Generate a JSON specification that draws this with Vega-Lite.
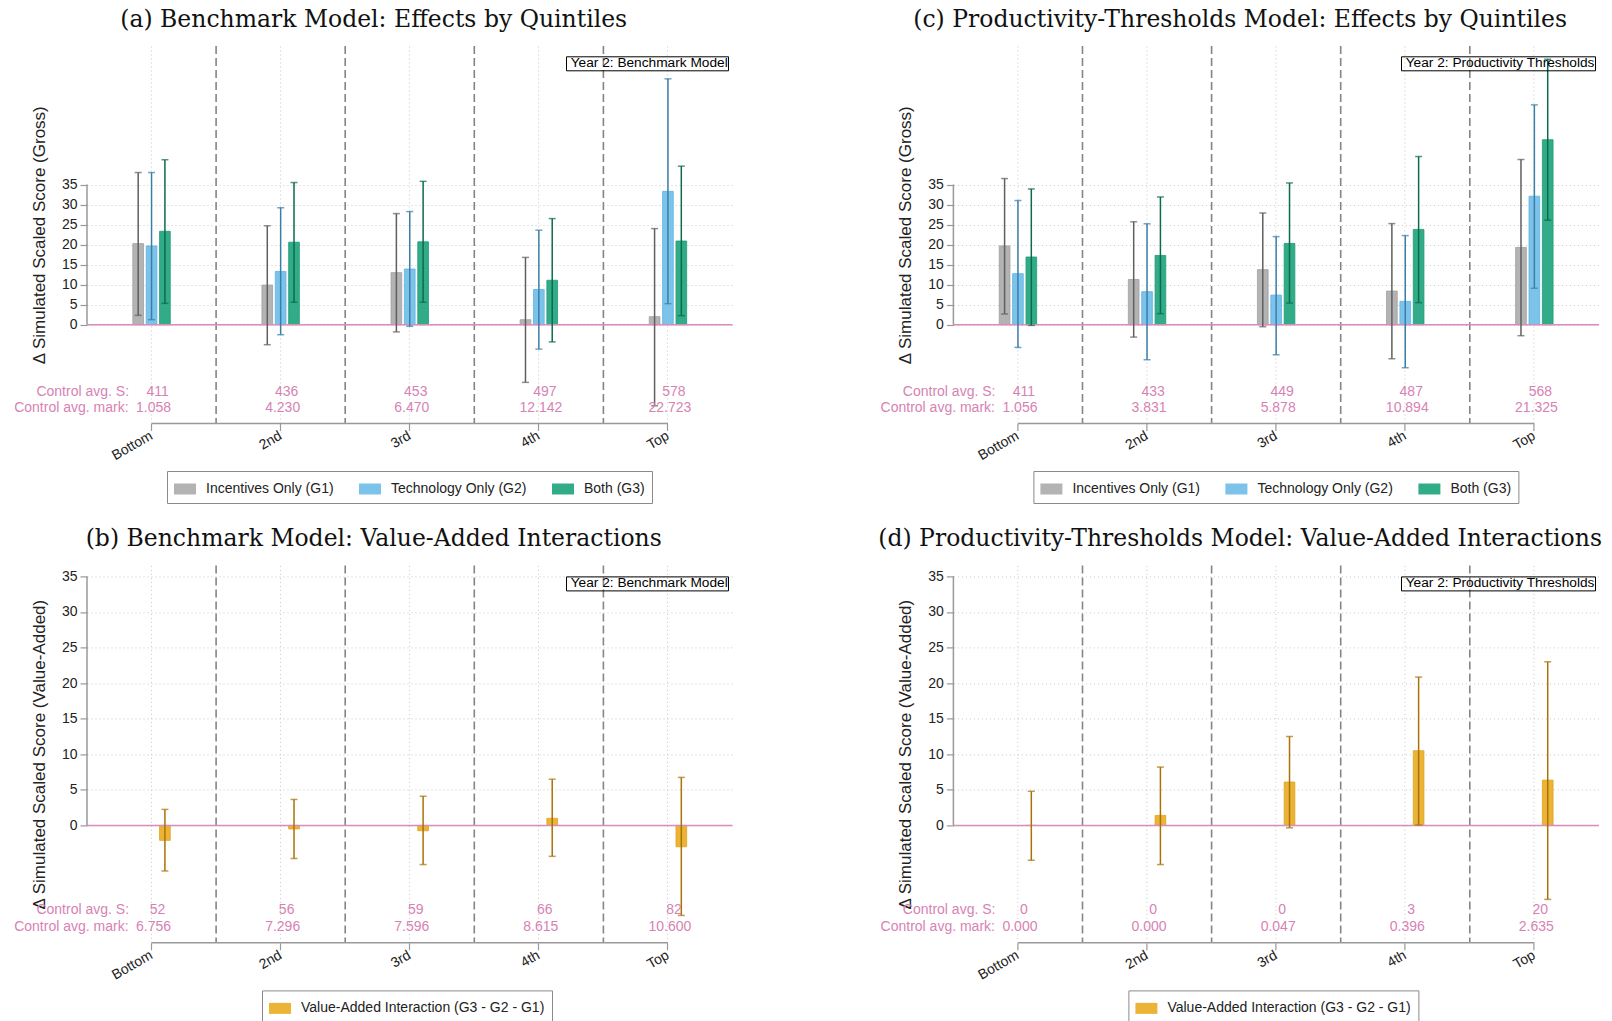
{
  "$schema": "https://vega.github.io/schema/vega-lite/v6.json",
  "background": "white",
  "padding": {"left": 14, "top": 7, "right": 0, "bottom": 0},
  "config": {
    "view": {"stroke": null},
    "font": "Liberation Sans",
    "axis": {"labelFont": "Liberation Sans", "titleFont": "Liberation Sans"},
    "legend": {"labelFont": "Liberation Sans"},
    "text": {"font": "Liberation Sans"},
    "title": {"font": "DejaVu Serif", "fontSize": 23.5, "fontWeight": "normal", "color": "#111111", "anchor": "middle", "frame": "bounds", "offset": 14}
  },
  "datasets": {
    "gA": [
      {"q": "Bottom", "grp": "Incentives Only (G1)", "est": 20.25, "lo": 2.33, "hi": 38.0},
      {"q": "Bottom", "grp": "Technology Only (G2)", "est": 19.67, "lo": 1.25, "hi": 38.0},
      {"q": "Bottom", "grp": "Both (G3)", "est": 23.33, "lo": 5.33, "hi": 41.2},
      {"q": "2nd", "grp": "Incentives Only (G1)", "est": 9.9, "lo": -5.0, "hi": 24.7},
      {"q": "2nd", "grp": "Technology Only (G2)", "est": 13.3, "lo": -2.5, "hi": 29.2},
      {"q": "2nd", "grp": "Both (G3)", "est": 20.6, "lo": 5.6, "hi": 35.5},
      {"q": "3rd", "grp": "Incentives Only (G1)", "est": 13.0, "lo": -1.8, "hi": 27.75},
      {"q": "3rd", "grp": "Technology Only (G2)", "est": 13.9, "lo": -0.4, "hi": 28.25},
      {"q": "3rd", "grp": "Both (G3)", "est": 20.7, "lo": 5.6, "hi": 35.8},
      {"q": "4th", "grp": "Incentives Only (G1)", "est": 1.25, "lo": -14.4, "hi": 16.8},
      {"q": "4th", "grp": "Technology Only (G2)", "est": 8.8, "lo": -6.1, "hi": 23.6},
      {"q": "4th", "grp": "Both (G3)", "est": 11.1, "lo": -4.3, "hi": 26.5},
      {"q": "Top", "grp": "Incentives Only (G1)", "est": 2.0, "lo": -20.25, "hi": 24.0},
      {"q": "Top", "grp": "Technology Only (G2)", "est": 33.3, "lo": 5.25, "hi": 61.4},
      {"q": "Top", "grp": "Both (G3)", "est": 20.9, "lo": 2.25, "hi": 39.6}
    ],
    "gC": [
      {"q": "Bottom", "grp": "Incentives Only (G1)", "est": 19.67, "lo": 2.67, "hi": 36.5},
      {"q": "Bottom", "grp": "Technology Only (G2)", "est": 12.75, "lo": -5.67, "hi": 31.0},
      {"q": "Bottom", "grp": "Both (G3)", "est": 16.9, "lo": -0.17, "hi": 33.9},
      {"q": "2nd", "grp": "Incentives Only (G1)", "est": 11.3, "lo": -3.1, "hi": 25.7},
      {"q": "2nd", "grp": "Technology Only (G2)", "est": 8.25, "lo": -8.75, "hi": 25.2},
      {"q": "2nd", "grp": "Both (G3)", "est": 17.3, "lo": 2.75, "hi": 31.9},
      {"q": "3rd", "grp": "Incentives Only (G1)", "est": 13.75, "lo": -0.5, "hi": 27.9},
      {"q": "3rd", "grp": "Technology Only (G2)", "est": 7.4, "lo": -7.5, "hi": 22.0},
      {"q": "3rd", "grp": "Both (G3)", "est": 20.3, "lo": 5.4, "hi": 35.4},
      {"q": "4th", "grp": "Incentives Only (G1)", "est": 8.4, "lo": -8.5, "hi": 25.25},
      {"q": "4th", "grp": "Technology Only (G2)", "est": 5.83, "lo": -10.75, "hi": 22.25},
      {"q": "4th", "grp": "Both (G3)", "est": 23.8, "lo": 5.5, "hi": 42.0},
      {"q": "Top", "grp": "Incentives Only (G1)", "est": 19.3, "lo": -2.75, "hi": 41.25},
      {"q": "Top", "grp": "Technology Only (G2)", "est": 32.1, "lo": 9.1, "hi": 54.9},
      {"q": "Top", "grp": "Both (G3)", "est": 46.2, "lo": 26.1, "hi": 66.3}
    ],
    "vB": [
      {"q": "Bottom", "series": "Value-Added Interaction (G3 - G2 - G1)", "est": -2.1, "lo": -6.4, "hi": 2.25},
      {"q": "2nd", "series": "Value-Added Interaction (G3 - G2 - G1)", "est": -0.5, "lo": -4.65, "hi": 3.65},
      {"q": "3rd", "series": "Value-Added Interaction (G3 - G2 - G1)", "est": -0.75, "lo": -5.5, "hi": 4.1},
      {"q": "4th", "series": "Value-Added Interaction (G3 - G2 - G1)", "est": 1.0, "lo": -4.35, "hi": 6.5},
      {"q": "Top", "series": "Value-Added Interaction (G3 - G2 - G1)", "est": -3.0, "lo": -12.65, "hi": 6.75}
    ],
    "vD": [
      {"q": "Bottom", "series": "Value-Added Interaction (G3 - G2 - G1)", "est": 0.0, "lo": -4.9, "hi": 4.8},
      {"q": "2nd", "series": "Value-Added Interaction (G3 - G2 - G1)", "est": 1.4, "lo": -5.5, "hi": 8.2},
      {"q": "3rd", "series": "Value-Added Interaction (G3 - G2 - G1)", "est": 6.1, "lo": -0.33, "hi": 12.5},
      {"q": "4th", "series": "Value-Added Interaction (G3 - G2 - G1)", "est": 10.5, "lo": 0.05, "hi": 20.85},
      {"q": "Top", "series": "Value-Added Interaction (G3 - G2 - G1)", "est": 6.37, "lo": -10.4, "hi": 23.0}
    ],
    "cA": [
      {"q": "Bottom", "s": "411", "m": "1.058"},
      {"q": "2nd", "s": "436", "m": "4.230"},
      {"q": "3rd", "s": "453", "m": "6.470"},
      {"q": "4th", "s": "497", "m": "12.142"},
      {"q": "Top", "s": "578", "m": "22.723"}
    ],
    "cC": [
      {"q": "Bottom", "s": "411", "m": "1.056"},
      {"q": "2nd", "s": "433", "m": "3.831"},
      {"q": "3rd", "s": "449", "m": "5.878"},
      {"q": "4th", "s": "487", "m": "10.894"},
      {"q": "Top", "s": "568", "m": "21.325"}
    ],
    "cB": [
      {"q": "Bottom", "s": "52", "m": "6.756"},
      {"q": "2nd", "s": "56", "m": "7.296"},
      {"q": "3rd", "s": "59", "m": "7.596"},
      {"q": "4th", "s": "66", "m": "8.615"},
      {"q": "Top", "s": "82", "m": "10.600"}
    ],
    "cD": [
      {"q": "Bottom", "s": "0", "m": "0.000"},
      {"q": "2nd", "s": "0", "m": "0.000"},
      {"q": "3rd", "s": "0", "m": "0.047"},
      {"q": "4th", "s": "3", "m": "0.396"},
      {"q": "Top", "s": "20", "m": "2.635"}
    ]
  },
  "columns": 2,
  "bounds": "flush",
  "spacing": {"row": 141.4, "column": 220.4},
  "resolve": {"scale": {"fill": "independent", "stroke": "independent", "color": "independent", "strokeDash": "independent"}},
  "concat": [
    {
      "title": "(a) Benchmark Model: Effects by Quintiles",
      "width": 645.5, "height": 377.4,
      "layer": [
        {
          "data": {"name": "gA"},
          "mark": {"type": "bar", "strokeWidth": 0.8},
          "encoding": {
            "x": {"field": "q", "type": "nominal", "scale": {"type": "band", "domain": ["Bottom", "2nd", "3rd", "4th", "Top"], "paddingInner": 0, "paddingOuter": 0},
              "axis": {"title": null, "domain": false, "ticks": true, "tickSize": 7, "tickColor": "#999999", "tickWidth": 1.2, "grid": true, "gridColor": "#c8c8c8", "gridDash": [1, 3], "gridWidth": 1, "labelAngle": -30, "labelAlign": "right", "labelBaseline": "middle", "labelPadding": 4, "labelFontSize": 14, "labelColor": "#222222", "bandPosition": 0.5}},
            "xOffset": {"field": "grp", "type": "nominal", "scale": {"domain": ["Incentives Only (G1)", "Technology Only (G2)", "Both (G3)"], "range": [44.5, 84.6], "paddingInner": 0.2, "paddingOuter": 0.1}},
            "y": {"field": "est", "type": "quantitative", "scale": {"domain": [-24.65, 69.6], "nice": false, "zero": false},
              "axis": {"title": "Δ Simulated Scaled Score (Gross)", "values": [0, 5, 10, 15, 20, 25, 30, 35], "domain": false, "tickSize": 7, "tickColor": "#999999", "tickWidth": 1.2, "grid": true, "gridColor": "#c8c8c8", "gridDash": [1, 3], "labelFontSize": 14, "labelPadding": 3, "labelColor": "#222222", "titleFontSize": 17, "titleFontWeight": "normal", "titleColor": "#222222", "titlePadding": 13}},
            "fill": {"field": "grp", "type": "nominal", "scale": {"domain": ["Incentives Only (G1)", "Technology Only (G2)", "Both (G3)"], "range": ["#b3b3b3", "#7cc3ec", "#32ac88"]},
              "legend": {"orient": "none", "legendX": 80, "legendY": 425, "direction": "horizontal", "columns": 3, "title": null, "symbolType": "M-1,-0.5H1V0.5H-1Z", "symbolSize": 484, "symbolStrokeWidth": 0, "labelOffset": 10, "columnPadding": 25, "padding": 7, "strokeColor": "#8a8a8a", "labelFontSize": 14, "labelColor": "#222222", "labelLimit": 400}},
            "stroke": {"field": "grp", "type": "nominal", "scale": {"domain": ["Incentives Only (G1)", "Technology Only (G2)", "Both (G3)"], "range": ["#a0a0a0", "#5fb2e4", "#1f9b75"]}, "legend": null}
          }
        },
        {
          "data": {"name": "cA"},
          "transform": [{"filter": "datum.q !== 'Bottom'"}],
          "mark": {"type": "rule", "color": "#858585", "strokeWidth": 1.6, "strokeDash": [8, 4]},
          "encoding": {"x": {"field": "q", "type": "nominal", "bandPosition": 0}}
        },
        {
          "data": {"values": [{}]},
          "mark": {"type": "rule", "color": "#dc8cbc", "strokeWidth": 1.5},
          "encoding": {
            "y": {"datum": 0},
            "strokeDash": {"datum": "Year 2: Benchmark Model\u00a0", "scale": {"range": [[1, 0]]},
              "legend": {"orient": "none", "legendX": 479, "legendY": 10.3, "title": null, "strokeColor": "#000000", "padding": 0, "symbolSize": 0, "symbolStrokeWidth": 0, "symbolOpacity": 0, "labelOffset": -9, "labelFontSize": 13.7, "labelColor": "#000000", "labelLimit": 400}}
          }
        },
        {
          "data": {"values": [{}]},
          "mark": {"type": "rule", "color": "#999999", "strokeWidth": 1.5},
          "encoding": {"x": {"datum": "Bottom"}, "x2": {"datum": "Top"}, "y": {"datum": -24.65}}
        },
        {
          "data": {"values": [{}]},
          "mark": {"type": "rule", "color": "#999999", "strokeWidth": 1.5},
          "encoding": {"x": {"datum": "Bottom", "bandPosition": 0}, "y": {"datum": 0}, "y2": {"datum": 35}}
        },
        {
          "data": {"name": "gA"},
          "mark": {"type": "rule", "strokeWidth": 1.5},
          "encoding": {
            "x": {"field": "q", "type": "nominal"},
            "xOffset": {"field": "grp", "type": "nominal"},
            "y": {"field": "lo", "type": "quantitative"},
            "y2": {"field": "hi"},
            "color": {"field": "grp", "type": "nominal", "scale": {"domain": ["Incentives Only (G1)", "Technology Only (G2)", "Both (G3)"], "range": ["#5f5f5f", "#3a7ea8", "#0c6b4a"]}, "legend": null}
          }
        },
        {
          "data": {"name": "gA"},
          "transform": [{"fold": ["lo", "hi"], "as": ["end", "val"]}],
          "mark": {"type": "tick", "orient": "horizontal", "size": 7, "thickness": 1.5},
          "encoding": {
            "x": {"field": "q", "type": "nominal"},
            "xOffset": {"field": "grp", "type": "nominal"},
            "y": {"field": "val", "type": "quantitative"},
            "color": {"field": "grp", "type": "nominal", "legend": null}
          }
        },
        {
          "data": {"name": "cA"},
          "mark": {"type": "text", "color": "#d782b4", "fontSize": 14, "dx": 6, "dy": -27.6, "align": "center", "baseline": "alphabetic"},
          "encoding": {"x": {"field": "q", "type": "nominal"}, "y": {"datum": -24.65}, "text": {"field": "s"}}
        },
        {
          "data": {"name": "cA"},
          "mark": {"type": "text", "color": "#d782b4", "fontSize": 14, "dx": 2, "dy": -11.6, "align": "center", "baseline": "alphabetic"},
          "encoding": {"x": {"field": "q", "type": "nominal"}, "y": {"datum": -24.65}, "text": {"field": "m"}}
        },
        {
          "data": {"values": [{}]},
          "mark": {"type": "text", "color": "#d782b4", "fontSize": 14, "dx": -22.5, "dy": -27.6, "align": "right", "baseline": "alphabetic", "text": "Control avg. S:"},
          "encoding": {"x": {"datum": "Bottom"}, "y": {"datum": -24.65}}
        },
        {
          "data": {"values": [{}]},
          "mark": {"type": "text", "color": "#d782b4", "fontSize": 14, "dx": -23, "dy": -11.6, "align": "right", "baseline": "alphabetic", "text": "Control avg. mark:"},
          "encoding": {"x": {"datum": "Bottom"}, "y": {"datum": -24.65}}
        }
      ]
    },
    {
      "title": "(c) Productivity-Thresholds Model: Effects by Quintiles",
      "width": 645.5, "height": 377.4,
      "layer": [
        {
          "data": {"name": "gC"},
          "mark": {"type": "bar", "strokeWidth": 0.8},
          "encoding": {
            "x": {"field": "q", "type": "nominal", "scale": {"type": "band", "domain": ["Bottom", "2nd", "3rd", "4th", "Top"], "paddingInner": 0, "paddingOuter": 0},
              "axis": {"title": null, "domain": false, "ticks": true, "tickSize": 7, "tickColor": "#999999", "tickWidth": 1.2, "grid": true, "gridColor": "#c8c8c8", "gridDash": [1, 3], "gridWidth": 1, "labelAngle": -30, "labelAlign": "right", "labelBaseline": "middle", "labelPadding": 4, "labelFontSize": 14, "labelColor": "#222222", "bandPosition": 0.5}},
            "xOffset": {"field": "grp", "type": "nominal", "scale": {"domain": ["Incentives Only (G1)", "Technology Only (G2)", "Both (G3)"], "range": [44.5, 84.6], "paddingInner": 0.2, "paddingOuter": 0.1}},
            "y": {"field": "est", "type": "quantitative", "scale": {"domain": [-24.65, 69.6], "nice": false, "zero": false},
              "axis": {"title": "Δ Simulated Scaled Score (Gross)", "values": [0, 5, 10, 15, 20, 25, 30, 35], "domain": false, "tickSize": 7, "tickColor": "#999999", "tickWidth": 1.2, "grid": true, "gridColor": "#c8c8c8", "gridDash": [1, 3], "labelFontSize": 14, "labelPadding": 3, "labelColor": "#222222", "titleFontSize": 17, "titleFontWeight": "normal", "titleColor": "#222222", "titlePadding": 13}},
            "fill": {"field": "grp", "type": "nominal", "scale": {"domain": ["Incentives Only (G1)", "Technology Only (G2)", "Both (G3)"], "range": ["#b3b3b3", "#7cc3ec", "#32ac88"]},
              "legend": {"orient": "none", "legendX": 80, "legendY": 425, "direction": "horizontal", "columns": 3, "title": null, "symbolType": "M-1,-0.5H1V0.5H-1Z", "symbolSize": 484, "symbolStrokeWidth": 0, "labelOffset": 10, "columnPadding": 25, "padding": 7, "strokeColor": "#8a8a8a", "labelFontSize": 14, "labelColor": "#222222", "labelLimit": 400}},
            "stroke": {"field": "grp", "type": "nominal", "scale": {"domain": ["Incentives Only (G1)", "Technology Only (G2)", "Both (G3)"], "range": ["#a0a0a0", "#5fb2e4", "#1f9b75"]}, "legend": null}
          }
        },
        {
          "data": {"name": "cC"},
          "transform": [{"filter": "datum.q !== 'Bottom'"}],
          "mark": {"type": "rule", "color": "#858585", "strokeWidth": 1.6, "strokeDash": [8, 4]},
          "encoding": {"x": {"field": "q", "type": "nominal", "bandPosition": 0}}
        },
        {
          "data": {"values": [{}]},
          "mark": {"type": "rule", "color": "#dc8cbc", "strokeWidth": 1.5},
          "encoding": {
            "y": {"datum": 0},
            "strokeDash": {"datum": "Year 2: Productivity Thresholds\u00a0", "scale": {"range": [[1, 0]]},
              "legend": {"orient": "none", "legendX": 447.6, "legendY": 10.3, "title": null, "strokeColor": "#000000", "padding": 0, "symbolSize": 0, "symbolStrokeWidth": 0, "symbolOpacity": 0, "labelOffset": -9, "labelFontSize": 13.7, "labelColor": "#000000", "labelLimit": 400}}
          }
        },
        {
          "data": {"values": [{}]},
          "mark": {"type": "rule", "color": "#999999", "strokeWidth": 1.5},
          "encoding": {"x": {"datum": "Bottom"}, "x2": {"datum": "Top"}, "y": {"datum": -24.65}}
        },
        {
          "data": {"values": [{}]},
          "mark": {"type": "rule", "color": "#999999", "strokeWidth": 1.5},
          "encoding": {"x": {"datum": "Bottom", "bandPosition": 0}, "y": {"datum": 0}, "y2": {"datum": 35}}
        },
        {
          "data": {"name": "gC"},
          "mark": {"type": "rule", "strokeWidth": 1.5},
          "encoding": {
            "x": {"field": "q", "type": "nominal"},
            "xOffset": {"field": "grp", "type": "nominal"},
            "y": {"field": "lo", "type": "quantitative"},
            "y2": {"field": "hi"},
            "color": {"field": "grp", "type": "nominal", "scale": {"domain": ["Incentives Only (G1)", "Technology Only (G2)", "Both (G3)"], "range": ["#5f5f5f", "#3a7ea8", "#0c6b4a"]}, "legend": null}
          }
        },
        {
          "data": {"name": "gC"},
          "transform": [{"fold": ["lo", "hi"], "as": ["end", "val"]}],
          "mark": {"type": "tick", "orient": "horizontal", "size": 7, "thickness": 1.5},
          "encoding": {
            "x": {"field": "q", "type": "nominal"},
            "xOffset": {"field": "grp", "type": "nominal"},
            "y": {"field": "val", "type": "quantitative"},
            "color": {"field": "grp", "type": "nominal", "legend": null}
          }
        },
        {
          "data": {"name": "cC"},
          "mark": {"type": "text", "color": "#d782b4", "fontSize": 14, "dx": 6, "dy": -27.6, "align": "center", "baseline": "alphabetic"},
          "encoding": {"x": {"field": "q", "type": "nominal"}, "y": {"datum": -24.65}, "text": {"field": "s"}}
        },
        {
          "data": {"name": "cC"},
          "mark": {"type": "text", "color": "#d782b4", "fontSize": 14, "dx": 2, "dy": -11.6, "align": "center", "baseline": "alphabetic"},
          "encoding": {"x": {"field": "q", "type": "nominal"}, "y": {"datum": -24.65}, "text": {"field": "m"}}
        },
        {
          "data": {"values": [{}]},
          "mark": {"type": "text", "color": "#d782b4", "fontSize": 14, "dx": -22.5, "dy": -27.6, "align": "right", "baseline": "alphabetic", "text": "Control avg. S:"},
          "encoding": {"x": {"datum": "Bottom"}, "y": {"datum": -24.65}}
        },
        {
          "data": {"values": [{}]},
          "mark": {"type": "text", "color": "#d782b4", "fontSize": 14, "dx": -23, "dy": -11.6, "align": "right", "baseline": "alphabetic", "text": "Control avg. mark:"},
          "encoding": {"x": {"datum": "Bottom"}, "y": {"datum": -24.65}}
        }
      ]
    },
    {
      "title": "(b) Benchmark Model: Value-Added Interactions",
      "width": 645.5, "height": 377.4,
      "layer": [
        {
          "data": {"name": "vB"},
          "mark": {"type": "bar", "strokeWidth": 0.8, "stroke": "#e0a31d"},
          "encoding": {
            "x": {"field": "q", "type": "nominal", "scale": {"type": "band", "domain": ["Bottom", "2nd", "3rd", "4th", "Top"], "paddingInner": 0, "paddingOuter": 0},
              "axis": {"title": null, "domain": false, "ticks": true, "tickSize": 7, "tickColor": "#999999", "tickWidth": 1.2, "grid": true, "gridColor": "#c8c8c8", "gridDash": [1, 3], "gridWidth": 1, "labelAngle": -30, "labelAlign": "right", "labelBaseline": "middle", "labelPadding": 4, "labelFontSize": 14, "labelColor": "#222222", "bandPosition": 0.5}},
            "xOffset": {"datum": "Both (G3)", "scale": {"domain": ["Incentives Only (G1)", "Technology Only (G2)", "Both (G3)"], "range": [44.5, 84.6], "paddingInner": 0.2, "paddingOuter": 0.1}},
            "y": {"field": "est", "type": "quantitative", "scale": {"domain": [-16.5, 36.55], "nice": false, "zero": false},
              "axis": {"title": "Δ Simulated Scaled Score (Value-Added)", "values": [0, 5, 10, 15, 20, 25, 30, 35], "domain": false, "tickSize": 7, "tickColor": "#999999", "tickWidth": 1.2, "grid": true, "gridColor": "#c8c8c8", "gridDash": [1, 3], "labelFontSize": 14, "labelPadding": 3, "labelColor": "#222222", "titleFontSize": 17, "titleFontWeight": "normal", "titleColor": "#222222", "titlePadding": 13}},
            "fill": {"field": "series", "type": "nominal", "scale": {"range": ["#ecb436"]},
              "legend": {"orient": "none", "legendX": 175, "legendY": 425, "direction": "horizontal", "title": null, "symbolType": "M-1,-0.5H1V0.5H-1Z", "symbolSize": 484, "symbolStrokeWidth": 0, "labelOffset": 10, "padding": 7, "strokeColor": "#8a8a8a", "labelFontSize": 14, "labelColor": "#222222", "labelLimit": 400}}
          }
        },
        {
          "data": {"name": "cB"},
          "transform": [{"filter": "datum.q !== 'Bottom'"}],
          "mark": {"type": "rule", "color": "#858585", "strokeWidth": 1.6, "strokeDash": [8, 4]},
          "encoding": {"x": {"field": "q", "type": "nominal", "bandPosition": 0}}
        },
        {
          "data": {"values": [{}]},
          "mark": {"type": "rule", "color": "#dc8cbc", "strokeWidth": 1.5},
          "encoding": {
            "y": {"datum": 0},
            "strokeDash": {"datum": "Year 2: Benchmark Model\u00a0", "scale": {"range": [[1, 0]]},
              "legend": {"orient": "none", "legendX": 479, "legendY": 11, "title": null, "strokeColor": "#000000", "padding": 0, "symbolSize": 0, "symbolStrokeWidth": 0, "symbolOpacity": 0, "labelOffset": -9, "labelFontSize": 13.7, "labelColor": "#000000", "labelLimit": 400}}
          }
        },
        {
          "data": {"values": [{}]},
          "mark": {"type": "rule", "color": "#999999", "strokeWidth": 1.5},
          "encoding": {"x": {"datum": "Bottom"}, "x2": {"datum": "Top"}, "y": {"datum": -16.5}}
        },
        {
          "data": {"values": [{}]},
          "mark": {"type": "rule", "color": "#999999", "strokeWidth": 1.5},
          "encoding": {"x": {"datum": "Bottom", "bandPosition": 0}, "y": {"datum": 0}, "y2": {"datum": 35}}
        },
        {
          "data": {"name": "vB"},
          "mark": {"type": "rule", "strokeWidth": 1.5, "color": "#a87208"},
          "encoding": {
            "x": {"field": "q", "type": "nominal"},
            "xOffset": {"datum": "Both (G3)"},
            "y": {"field": "lo", "type": "quantitative"},
            "y2": {"field": "hi"}
          }
        },
        {
          "data": {"name": "vB"},
          "transform": [{"fold": ["lo", "hi"], "as": ["end", "val"]}],
          "mark": {"type": "tick", "orient": "horizontal", "size": 7, "thickness": 1.5, "color": "#a87208"},
          "encoding": {
            "x": {"field": "q", "type": "nominal"},
            "xOffset": {"datum": "Both (G3)"},
            "y": {"field": "val", "type": "quantitative"}
          }
        },
        {
          "data": {"name": "cB"},
          "mark": {"type": "text", "color": "#d782b4", "fontSize": 14, "dx": 6, "dy": -29, "align": "center", "baseline": "alphabetic"},
          "encoding": {"x": {"field": "q", "type": "nominal"}, "y": {"datum": -16.5}, "text": {"field": "s"}}
        },
        {
          "data": {"name": "cB"},
          "mark": {"type": "text", "color": "#d782b4", "fontSize": 14, "dx": 2, "dy": -11.5, "align": "center", "baseline": "alphabetic"},
          "encoding": {"x": {"field": "q", "type": "nominal"}, "y": {"datum": -16.5}, "text": {"field": "m"}}
        },
        {
          "data": {"values": [{}]},
          "mark": {"type": "text", "color": "#d782b4", "fontSize": 14, "dx": -22.5, "dy": -29, "align": "right", "baseline": "alphabetic", "text": "Control avg. S:"},
          "encoding": {"x": {"datum": "Bottom"}, "y": {"datum": -16.5}}
        },
        {
          "data": {"values": [{}]},
          "mark": {"type": "text", "color": "#d782b4", "fontSize": 14, "dx": -23, "dy": -11.5, "align": "right", "baseline": "alphabetic", "text": "Control avg. mark:"},
          "encoding": {"x": {"datum": "Bottom"}, "y": {"datum": -16.5}}
        }
      ]
    },
    {
      "title": "(d) Productivity-Thresholds Model: Value-Added Interactions",
      "width": 645.5, "height": 377.4,
      "layer": [
        {
          "data": {"name": "vD"},
          "mark": {"type": "bar", "strokeWidth": 0.8, "stroke": "#e0a31d"},
          "encoding": {
            "x": {"field": "q", "type": "nominal", "scale": {"type": "band", "domain": ["Bottom", "2nd", "3rd", "4th", "Top"], "paddingInner": 0, "paddingOuter": 0},
              "axis": {"title": null, "domain": false, "ticks": true, "tickSize": 7, "tickColor": "#999999", "tickWidth": 1.2, "grid": true, "gridColor": "#c8c8c8", "gridDash": [1, 3], "gridWidth": 1, "labelAngle": -30, "labelAlign": "right", "labelBaseline": "middle", "labelPadding": 4, "labelFontSize": 14, "labelColor": "#222222", "bandPosition": 0.5}},
            "xOffset": {"datum": "Both (G3)", "scale": {"domain": ["Incentives Only (G1)", "Technology Only (G2)", "Both (G3)"], "range": [44.5, 84.6], "paddingInner": 0.2, "paddingOuter": 0.1}},
            "y": {"field": "est", "type": "quantitative", "scale": {"domain": [-16.5, 36.55], "nice": false, "zero": false},
              "axis": {"title": "Δ Simulated Scaled Score (Value-Added)", "values": [0, 5, 10, 15, 20, 25, 30, 35], "domain": false, "tickSize": 7, "tickColor": "#999999", "tickWidth": 1.2, "grid": true, "gridColor": "#c8c8c8", "gridDash": [1, 3], "labelFontSize": 14, "labelPadding": 3, "labelColor": "#222222", "titleFontSize": 17, "titleFontWeight": "normal", "titleColor": "#222222", "titlePadding": 13}},
            "fill": {"field": "series", "type": "nominal", "scale": {"range": ["#ecb436"]},
              "legend": {"orient": "none", "legendX": 175, "legendY": 425, "direction": "horizontal", "title": null, "symbolType": "M-1,-0.5H1V0.5H-1Z", "symbolSize": 484, "symbolStrokeWidth": 0, "labelOffset": 10, "padding": 7, "strokeColor": "#8a8a8a", "labelFontSize": 14, "labelColor": "#222222", "labelLimit": 400}}
          }
        },
        {
          "data": {"name": "cD"},
          "transform": [{"filter": "datum.q !== 'Bottom'"}],
          "mark": {"type": "rule", "color": "#858585", "strokeWidth": 1.6, "strokeDash": [8, 4]},
          "encoding": {"x": {"field": "q", "type": "nominal", "bandPosition": 0}}
        },
        {
          "data": {"values": [{}]},
          "mark": {"type": "rule", "color": "#dc8cbc", "strokeWidth": 1.5},
          "encoding": {
            "y": {"datum": 0},
            "strokeDash": {"datum": "Year 2: Productivity Thresholds\u00a0", "scale": {"range": [[1, 0]]},
              "legend": {"orient": "none", "legendX": 447.6, "legendY": 11, "title": null, "strokeColor": "#000000", "padding": 0, "symbolSize": 0, "symbolStrokeWidth": 0, "symbolOpacity": 0, "labelOffset": -9, "labelFontSize": 13.7, "labelColor": "#000000", "labelLimit": 400}}
          }
        },
        {
          "data": {"values": [{}]},
          "mark": {"type": "rule", "color": "#999999", "strokeWidth": 1.5},
          "encoding": {"x": {"datum": "Bottom"}, "x2": {"datum": "Top"}, "y": {"datum": -16.5}}
        },
        {
          "data": {"values": [{}]},
          "mark": {"type": "rule", "color": "#999999", "strokeWidth": 1.5},
          "encoding": {"x": {"datum": "Bottom", "bandPosition": 0}, "y": {"datum": 0}, "y2": {"datum": 35}}
        },
        {
          "data": {"name": "vD"},
          "mark": {"type": "rule", "strokeWidth": 1.5, "color": "#a87208"},
          "encoding": {
            "x": {"field": "q", "type": "nominal"},
            "xOffset": {"datum": "Both (G3)"},
            "y": {"field": "lo", "type": "quantitative"},
            "y2": {"field": "hi"}
          }
        },
        {
          "data": {"name": "vD"},
          "transform": [{"fold": ["lo", "hi"], "as": ["end", "val"]}],
          "mark": {"type": "tick", "orient": "horizontal", "size": 7, "thickness": 1.5, "color": "#a87208"},
          "encoding": {
            "x": {"field": "q", "type": "nominal"},
            "xOffset": {"datum": "Both (G3)"},
            "y": {"field": "val", "type": "quantitative"}
          }
        },
        {
          "data": {"name": "cD"},
          "mark": {"type": "text", "color": "#d782b4", "fontSize": 14, "dx": 6, "dy": -29, "align": "center", "baseline": "alphabetic"},
          "encoding": {"x": {"field": "q", "type": "nominal"}, "y": {"datum": -16.5}, "text": {"field": "s"}}
        },
        {
          "data": {"name": "cD"},
          "mark": {"type": "text", "color": "#d782b4", "fontSize": 14, "dx": 2, "dy": -11.5, "align": "center", "baseline": "alphabetic"},
          "encoding": {"x": {"field": "q", "type": "nominal"}, "y": {"datum": -16.5}, "text": {"field": "m"}}
        },
        {
          "data": {"values": [{}]},
          "mark": {"type": "text", "color": "#d782b4", "fontSize": 14, "dx": -22.5, "dy": -29, "align": "right", "baseline": "alphabetic", "text": "Control avg. S:"},
          "encoding": {"x": {"datum": "Bottom"}, "y": {"datum": -16.5}}
        },
        {
          "data": {"values": [{}]},
          "mark": {"type": "text", "color": "#d782b4", "fontSize": 14, "dx": -23, "dy": -11.5, "align": "right", "baseline": "alphabetic", "text": "Control avg. mark:"},
          "encoding": {"x": {"datum": "Bottom"}, "y": {"datum": -16.5}}
        }
      ]
    }
  ]
}
